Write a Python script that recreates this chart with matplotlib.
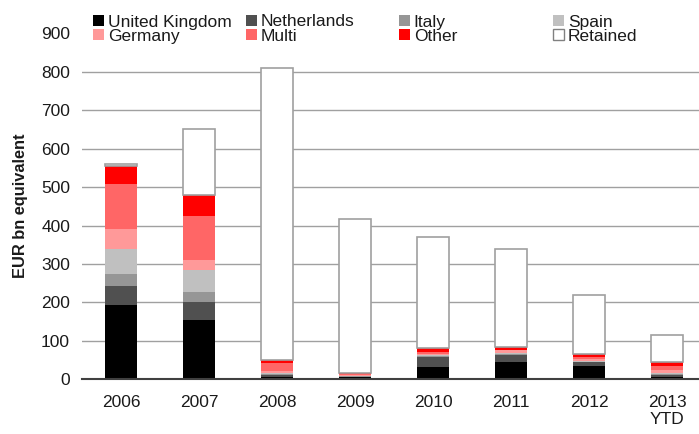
import matplotlib
matplotlib.use("Agg")
import matplotlib.pyplot as plt
from matplotlib.patches import Patch
import numpy as np

years = ['2006', '2007', '2008', '2009', '2010', '2011', '2012', '2013\nYTD']
uk = [192, 155, 5, 5, 33, 45, 35, 7]
netherlands = [51, 45, 5, 2, 25, 18, 9, 4]
italy = [30, 27, 3, 1, 3, 3, 2, 3]
spain = [67, 58, 3, 1, 2, 3, 2, 3]
germany = [52, 25, 5, 2, 4, 6, 4, 7]
multi = [115, 114, 22, 2, 5, 2, 5, 11]
other = [47, 55, 8, 3, 9, 7, 10, 9]
retained = [7, 171, 760, 401, 289, 256, 151, 72]

series_names = ['United Kingdom', 'Netherlands', 'Italy', 'Spain',
                'Germany', 'Multi', 'Other', 'Retained']
series_vals = [uk, netherlands, italy, spain, germany, multi, other, retained]
colors = ['#000000', '#505050', '#969696', '#c0c0c0',
          '#ff9999', '#ff6666', '#ff0000', '#ffffff']

plt.rcParams['font.family'] = ['Liberation Sans', 'DejaVu Sans']
txt_color = '#1a1a1a'
fs = 12.5

fig = plt.figure(figsize=(6.99, 4.34), dpi=100)
ax = fig.add_axes([82 / 699, (434 - 379.3) / 434, 617 / 699, 346 / 434])

x = np.arange(len(years))
bottom = np.zeros(len(years))
width = 0.41
for name, vals, col in zip(series_names, series_vals, colors):
    vals = np.array(vals, dtype=float)
    if name == 'Retained':
        ax.bar(x, vals, width, bottom=bottom, color=col, edgecolor='#a0a0a0',
               linewidth=1.2, zorder=3)
    else:
        ax.bar(x, vals, width, bottom=bottom, color=col, linewidth=0, zorder=3)
    bottom += vals

ax.set_xlim(-0.5, 7.41)
ax.set_ylim(0, 900)
ax.set_yticks(np.arange(0, 901, 100))
ax.set_xticks(x)
ax.set_xticklabels(years)

for yv in range(100, 900, 100):
    ax.axhline(yv, color='#a0a0a0', linewidth=1.0, zorder=1)

for s in ['top', 'right', 'left']:
    ax.spines[s].set_visible(False)
ax.spines['bottom'].set_color('#404040')
ax.spines['bottom'].set_linewidth(1.5)
ax.spines['bottom'].set_zorder(4)

ax.tick_params(axis='y', length=0, pad=8.6, labelsize=fs, labelcolor=txt_color)
ax.tick_params(axis='x', length=0, pad=11, labelsize=fs, labelcolor=txt_color)

fig.text(21 / 699, 1 - 206 / 434, 'EUR bn equivalent', rotation=90,
         ha='center', va='center', fontsize=11.8, fontweight='bold', color=txt_color)

# legend: four columns, two rows each
cols = [(0, 4), (1, 5), (2, 6), (3, 7)]
col_x = [93, 246, 399, 553]
legends = []
for (i, j), lx in zip(cols, col_x):
    handles = []
    for k in (i, j):
        if series_names[k] == 'Retained':
            handles.append(Patch(facecolor='#ffffff', edgecolor='#808080', linewidth=1.0,
                                 label=series_names[k]))
        else:
            handles.append(Patch(facecolor=colors[k], edgecolor='none',
                                 label=series_names[k]))
    leg = fig.legend(handles=handles, loc='upper left',
                     bbox_to_anchor=(lx / 699, 1 - 14.5 / 434),
                     frameon=False, fontsize=fs, handlelength=0.62, handleheight=0.62,
                     handletextpad=0.23, labelspacing=-0.03, borderpad=0, borderaxespad=0)
    for t in leg.get_texts():
        t.set_color(txt_color)
    legends.append(leg)

fig.savefig('out.png', dpi=100)
